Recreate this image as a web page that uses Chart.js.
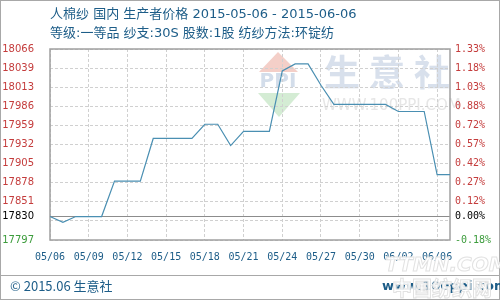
<!DOCTYPE html>
<html><head><meta charset="utf-8">
<script src="https://cdn.jsdelivr.net/npm/chart.js@4"></script>
<style>html,body{margin:0;padding:0;background:#fff}#wrap{width:500px;height:300px;position:relative}</style>
</head><body><div id="wrap"><canvas id="c" width="500" height="300"></canvas></div>
<script>
const titleLine1 = '人棉纱 国内 生产者价格 2015-05-06 - 2015-06-06';
const titleLine2 = '等级:一等品 纱支:30S 股数:1股 纺纱方法:环锭纺';
const footerLeft = '© 2015.06 生意社';
const footerRight = 'www.100ppi.com';
const watermarkBig = ['生','意','社'];
const watermarkUrl = 'WWW.100PPI.COM';

const dates = ['05/06','05/07','05/08','05/09','05/10','05/11','05/12','05/13','05/14','05/15',
  '05/16','05/17','05/18','05/19','05/20','05/21','05/22','05/23','05/24','05/25','05/26','05/27',
  '05/28','05/29','05/30','05/31','06/01','06/02','06/03','06/04','06/05','06/06'];
const xTickLabels = ['05/06','05/09','05/12','05/15','05/18','05/21','05/24','05/27','05/30','06/02','06/06'];
const prices = [17830,17822,17830,17830,17830,17880,17880,17880,17940,17940,17940,17940,17960,17960,
  17930,17950,17950,17950,18035,18045,18045,18015,17988,17988,17988,17988,17988,17978,17978,17978,17889,17889];

const basePrice = 17830;
const yMin = 17797, yMax = 18066;
const yTickValues = [17797, 17823.9, 17830, 17850.8, 17877.7, 17904.6, 17931.5, 17958.4, 17985.3, 18012.2, 18039.1, 18066];
const leftTickLabels = ['17797','','17830','17851','17878','17905','17932','17959','17986','18013','18039','18066'];
const rightTickLabels = ['-0.18%','','0.00%','0.12%','0.27%','0.42%','0.57%','0.72%','0.88%','1.03%','1.18%','1.33%'];

const RED = '#c43c3c', GREEN = '#3c9c3c', BLACK = '#000000', BLUE = '#1d5d88';
function tickColor(ctx){
  const v = ctx.tick ? ctx.tick.value : 0;
  if (Math.abs(v - basePrice) < 0.01) return BLACK;
  return v > basePrice ? RED : GREEN;
}

const decor = {
  id: 'decor',
  beforeDraw(chart){
    const c = chart.ctx;
    c.save();
    c.fillStyle = '#fff'; c.fillRect(0,0,chart.width,chart.height);
    // watermark logo
    c.fillStyle = '#f4cfc8';
    c.beginPath(); c.moveTo(259,72); c.lineTo(278,52); c.lineTo(298,72); c.closePath(); c.fill();
    c.fillStyle = '#d3ddea';
    c.font = 'bold 20px "DejaVu Sans"'; c.textBaseline = 'middle'; c.textAlign = 'center';
    c.fillText('PPI', 278, 82);
    c.fillStyle = '#d4ecd4';
    c.beginPath(); c.moveTo(258,93); c.lineTo(300,93); c.lineTo(279,117); c.closePath(); c.fill();
    c.fillStyle = '#d8e0ec';
    c.font = 'bold 36px "Noto Sans CJK SC"'; c.textAlign = 'left';
    watermarkBig.forEach((ch, i) => c.fillText(ch, 324 + i * 45, 72));
    c.fillStyle = '#e6e6e6';
    c.font = '15px "DejaVu Sans"';
    c.fillText(watermarkUrl, 322, 106);
    c.restore();
  },
  beforeDatasetsDraw(chart){
    const c = chart.ctx, a = chart.chartArea;
    c.save();
    c.strokeStyle = '#a0a0a0'; c.lineWidth = 1.5;
    c.strokeRect(a.left, a.top, a.right - a.left, a.bottom - a.top);
    c.restore();
  },
  afterDraw(chart){
    const c = chart.ctx;
    c.save();
    c.strokeStyle = '#a8a8a8'; c.lineWidth = 1;
    c.strokeRect(0.5,0.5,499,299);
    c.beginPath(); c.moveTo(0,275.5); c.lineTo(500,275.5); c.stroke();
    c.fillStyle = BLUE; c.textBaseline = 'middle'; c.textAlign = 'left';
    c.font = '13px "DejaVu Sans", "Noto Sans CJK SC"';
    c.fillText(titleLine1, 50, 15);
    c.fillText(titleLine2, 50, 34);
    c.font = '13px "Noto Sans CJK SC"';
    c.fillText(footerLeft, 10, 286);
    c.font = 'bold 13px "DejaVu Sans"';
    c.fillText(footerRight, 382, 287);
    // ghost watermark bottom right
    c.font = 'italic bold 20px "DejaVu Sans"';
    c.fillStyle = 'rgba(255,255,255,0.9)'; c.strokeStyle = '#e2e2e2'; c.lineWidth = 1;
    c.fillText('TTMN.COM', 385, 266); c.strokeText('TTMN.COM', 385, 266);
    c.font = 'bold 20px "Noto Sans CJK SC"';
    c.fillText('中国纺织网', 392, 288); c.strokeText('中国纺织网', 392, 288);
    c.restore();
  }
};

new Chart(document.getElementById('c'), {
  type: 'line',
  data: { labels: dates, datasets: [{ data: prices, borderColor: '#4a8fb2', borderWidth: 1.2,
    pointRadius: 0, tension: 0, fill: false, yAxisID: 'y' }] },
  options: {
    responsive: false, animation: false, devicePixelRatio: 1,
    layout: { padding: { top: 49, left: 0, right: 0, bottom: 0 } },
    plugins: { legend: { display: false }, tooltip: { enabled: false } },
    scales: {
      x: {
        type: 'category', offset: false,
        afterBuildTicks(s){ s.ticks = s.ticks.filter(t => t.value % 3 === 0); },
        afterFit(s){ s.height = 60; },
        grid: { color: '#d0d0d0', drawTicks: false, lineWidth: 1 },
        border: { display: false, dash: [3,2] },
        ticks: { autoSkip: false, maxRotation: 0, padding: 11, color: BLUE,
          font: { family: '"DejaVu Sans Mono"', size: 10 },
          callback: (v) => xTickLabels[v / 3] }
      },
      y: {
        position: 'left', min: yMin, max: yMax,
        afterBuildTicks(s){ s.ticks = yTickValues.map(v => ({ value: v })); },
        afterFit(s){ s.width = 50; },
        grid: { drawTicks: false, lineWidth: 1,
          color: ctx => (ctx.tick && Math.abs(ctx.tick.value - basePrice) < 0.01) ? '#8c8c8c' : '#d0d0d0' },
        border: { display: false,
          dash: ctx => (ctx.tick && Math.abs(ctx.tick.value - basePrice) < 0.01) ? [] : [3,2] },
        ticks: { autoSkip: false, padding: 16, color: tickColor,
          font: { family: '"DejaVu Sans"', size: 10 },
          callback: (v, i) => leftTickLabels[i] }
      },
      y2: {
        position: 'right', min: yMin, max: yMax,
        afterBuildTicks(s){ s.ticks = yTickValues.map(v => ({ value: v })); },
        afterFit(s){ s.width = 50; },
        grid: { display: false, drawTicks: false },
        border: { display: false },
        ticks: { autoSkip: false, padding: 5, color: tickColor,
          font: { family: '"DejaVu Sans Mono"', size: 10 },
          callback: (v, i) => rightTickLabels[i] }
      }
    }
  },
  plugins: [decor]
});
</script></body></html>
